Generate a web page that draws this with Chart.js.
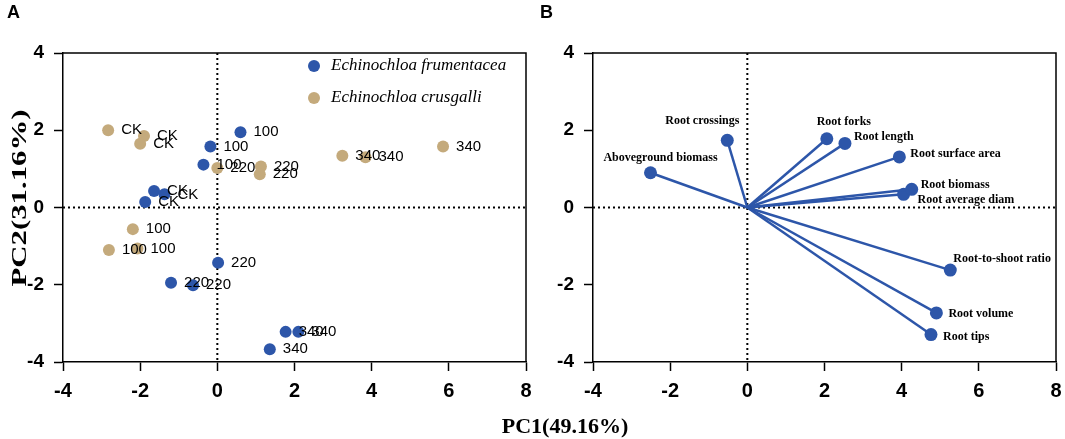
<!DOCTYPE html>
<html>
<head>
<meta charset="utf-8">
<script src="https://cdn.jsdelivr.net/npm/chart.js@4"></script>
<style>
    body { margin: 0; background: #fff; }
    #wrap { position: relative; width: 1065px; height: 439px; overflow: hidden; }
    .panel { position: absolute; top: 0; height: 439px; }
    .lbl { position: absolute; font-family: Arial, "Liberation Sans", sans-serif; font-weight: bold; font-size: 18px; color: #000; }
    .ttl { position: absolute; font-family: "Times New Roman", "Liberation Serif", serif; font-weight: bold; font-size: 22px; color: #000; white-space: nowrap; }
</style>
</head>
<body>
<div id="wrap">
    <div class="panel" style="left:0;width:535px"><canvas id="canvas1"></canvas></div>
    <div class="panel" style="left:535px;width:530px"><canvas id="canvas2"></canvas></div>
    <div class="lbl" style="left:7px;top:2px">A</div>
    <div class="lbl" style="left:540px;top:2px">B</div>
    <div class="ttl" id="ytitle" style="left:19px;top:198px;transform:translate(-50%,-50%) rotate(-90deg) scaleX(1.4)">PC2(31.16%)</div>
    <div class="ttl" style="left:565px;top:426px;transform:translate(-50%,-50%)">PC1(49.16%)</div>
</div>
<script>
// data
const fruX = [-1.64, -1.37, -1.87, 0.60, -0.18, -0.36, 0.02, -1.20, -0.63, 1.77, 2.10, 1.36];
const fruY = [0.43, 0.34, 0.14, 1.95, 1.58, 1.11, -1.43, -1.95, -2.01, -3.22, -3.22, -3.67];
const fruLab = ['CK', 'CK', 'CK', '100', '100', '100', '220', '220', '220', '340', '340', '340'];

const crusX = [-2.83, -1.90, -2.00, -2.19, -2.81, -2.07, 0.00, 1.13, 1.10, 3.24, 3.84, 5.85];
const crusY = [2.00, 1.85, 1.65, -0.56, -1.10, -1.06, 1.02, 1.06, 0.86, 1.34, 1.30, 1.58];
const crusLab = ['CK', 'CK', 'CK', '100', '100', '100', '220', '220', '220', '340', '340', '340'];

const varNames = ['Aboveground biomass', 'Root crossings', 'Root forks', 'Root length', 'Root surface area',
    'Root biomass', 'Root average diam', 'Root-to-shoot ratio', 'Root volume', 'Root tips'];
const varX = [-2.51, -0.52, 2.06, 2.53, 3.94, 4.26, 4.05, 5.26, 4.90, 4.76];
const varY = [0.90, 1.74, 1.78, 1.66, 1.31, 0.47, 0.34, -1.62, -2.73, -3.29];

const xTicks = [-4, -2, 0, 2, 4, 6, 8];
const yTicks = [-4, -2, 0, 2, 4];

// label placement for panel B (pixels from the point)
const varLabelPos = [
    [10, -15, 'center'], [-25, -19, 'center'], [17, -17, 'center'], [9, -6, 'left'], [11, -3, 'left'],
    [9, -4, 'left'], [14, 6, 'left'], [3, -11, 'left'], [12, 1, 'left'], [12, 2, 'left']
];

const BLUE = '#2d56a9';
const TAN = '#c4aa7c';
const SANS = 'Arial, "Liberation Sans", sans-serif';
const SERIF = '"Times New Roman", "Liberation Serif", serif';

function toPoints(xs, ys) {
    return xs.map((x, i) => ({ x: x, y: ys[i] }));
}

function axes(yWidth) {
    return {
        x: {
            type: 'linear', min: -4, max: 8,
            afterBuildTicks: s => { s.ticks = xTicks.map(v => ({ value: v })); },
            afterFit: s => { s.height = 77; s.paddingRight = 0; s.paddingLeft = 0; },
            ticks: { color: '#000', padding: 8, font: { family: SANS, size: 20, weight: 'bold' } },
            grid: { drawOnChartArea: false, tickLength: 9, tickColor: '#000', tickWidth: 1.5 },
            border: { color: '#000', width: 1.5 }
        },
        y: {
            type: 'linear', min: -4, max: 4,
            afterBuildTicks: s => { s.ticks = yTicks.map(v => ({ value: v })); },
            afterFit: s => { s.width = yWidth; },
            ticks: { color: '#000', padding: 10, font: { family: SANS, size: 19, weight: 'bold' } },
            grid: { drawOnChartArea: false, tickLength: 9, tickColor: '#000', tickWidth: 1.5 },
            border: { color: '#000', width: 1.5 }
        }
    };
}

// dotted zero lines + top/right frame
const framePlugin = {
    id: 'frame',
    beforeDatasetsDraw(chart) {
        const { ctx, chartArea: a, scales } = chart;
        const x0 = scales.x.getPixelForValue(0);
        const y0 = scales.y.getPixelForValue(0);
        ctx.save();
        ctx.strokeStyle = '#000';
        ctx.lineWidth = 2;
        ctx.setLineDash([2, 3]);
        ctx.beginPath();
        ctx.moveTo(x0, a.top); ctx.lineTo(x0, a.bottom);
        ctx.moveTo(a.left, y0); ctx.lineTo(a.right, y0);
        ctx.stroke();
        ctx.setLineDash([]);
        ctx.lineWidth = 1.5;
        ctx.beginPath();
        ctx.moveTo(a.left, a.top); ctx.lineTo(a.right, a.top); ctx.lineTo(a.right, a.bottom);
        ctx.stroke();
        ctx.restore();
    }
};

//----------------PANEL A

const ctx1 = document.getElementById('canvas1');

new Chart(ctx1, {
    type: 'scatter',
    data: {
        datasets: [{
            label: 'Echinochloa frumentacea',
            data: toPoints(fruX, fruY),
            names: fruLab,
            backgroundColor: BLUE,
            borderWidth: 0,
            pointRadius: 6
        },
        {
            label: 'Echinochloa crusgalli',
            data: toPoints(crusX, crusY),
            names: crusLab,
            backgroundColor: TAN,
            borderWidth: 0,
            pointRadius: 6
        }]
    },
    options: {
        maintainAspectRatio: false,
        animation: false,
        layout: { padding: { top: 53, right: 9, left: 0, bottom: 0 } },
        scales: axes(63),
        plugins: { legend: { display: false }, tooltip: { enabled: false } }
    },
    plugins: [framePlugin, {
        id: 'labelsA',
        afterDatasetsDraw(chart) {
            const { ctx, chartArea: a } = chart;
            ctx.save();
            ctx.fillStyle = '#000';
            ctx.font = '15px ' + SANS;
            ctx.textBaseline = 'middle';
            ctx.textAlign = 'left';
            chart.data.datasets.forEach((ds, di) => {
                chart.getDatasetMeta(di).data.forEach((p, i) => {
                    ctx.fillText(ds.names[i], p.x + 13, p.y);
                });
            });
            // legend
            ctx.font = 'italic 17px ' + SERIF;
            chart.data.datasets.forEach((ds, di) => {
                const ly = a.top + 13 + di * 32;
                ctx.fillStyle = ds.backgroundColor;
                ctx.beginPath();
                ctx.arc(a.left + 251, ly, 6, 0, Math.PI * 2);
                ctx.fill();
                ctx.fillStyle = '#000';
                ctx.fillText(ds.label, a.left + 268, ly);
            });
            ctx.restore();
        }
    }]
});

//----------------PANEL B

const ctx2 = document.getElementById('canvas2');

new Chart(ctx2, {
    type: 'scatter',
    data: {
        datasets: varNames.map((n, i) => ({
            label: n,
            data: [{ x: 0, y: 0 }, { x: varX[i], y: varY[i] }],
            showLine: true,
            borderColor: BLUE,
            borderWidth: 2.5,
            backgroundColor: BLUE,
            pointBorderWidth: 0,
            pointRadius: [0, 6.5]
        }))
    },
    options: {
        maintainAspectRatio: false,
        animation: false,
        layout: { padding: { top: 53, right: 9, left: 0, bottom: 0 } },
        scales: axes(58),
        plugins: { legend: { display: false }, tooltip: { enabled: false } }
    },
    plugins: [framePlugin, {
        id: 'labelsB',
        afterDatasetsDraw(chart) {
            const { ctx } = chart;
            ctx.save();
            ctx.fillStyle = '#000';
            ctx.font = 'bold 12px ' + SERIF;
            ctx.textBaseline = 'middle';
            chart.data.datasets.forEach((ds, di) => {
                const p = chart.getDatasetMeta(di).data[1];
                const pos = varLabelPos[di];
                ctx.textAlign = pos[2];
                ctx.fillText(ds.label, p.x + pos[0], p.y + pos[1]);
            });
            ctx.restore();
        }
    }]
});
</script>
</body>
</html>
